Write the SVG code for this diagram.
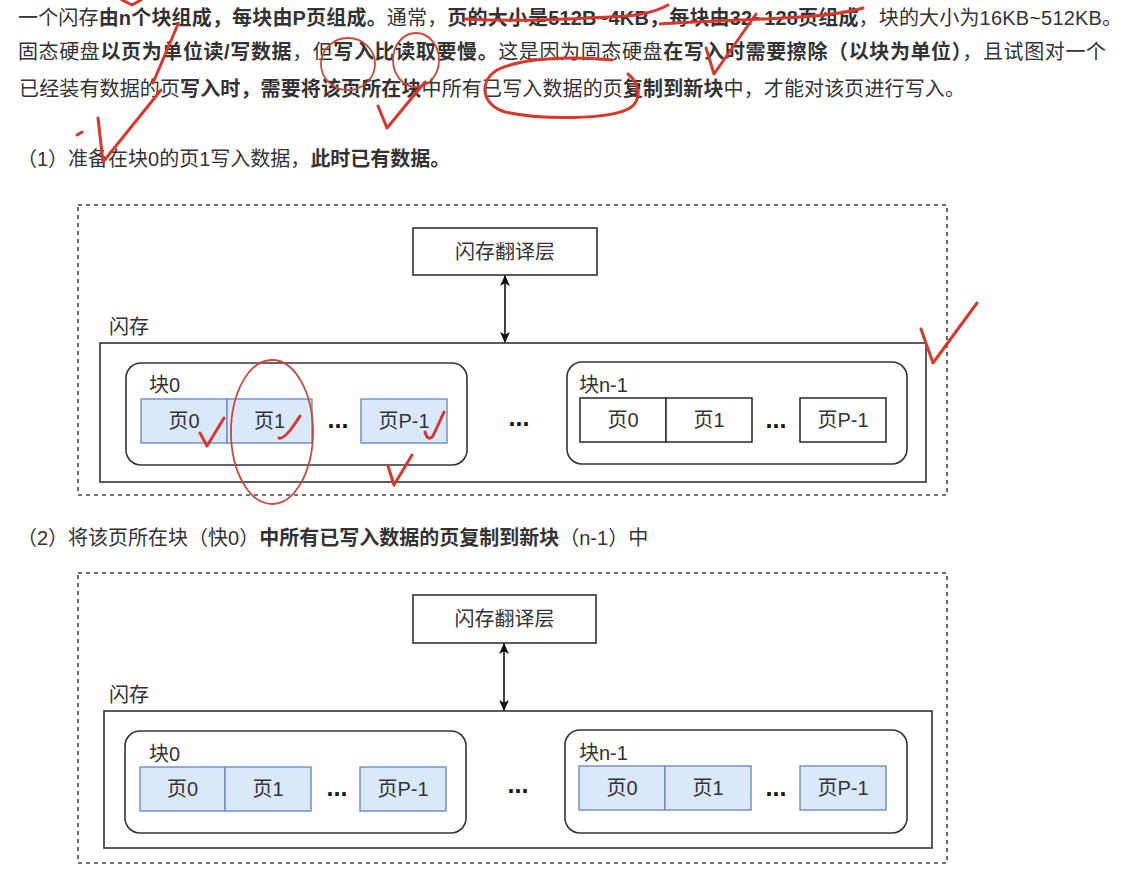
<svg xmlns="http://www.w3.org/2000/svg" width="1132" height="876" viewBox="0 0 1132 876">
<defs>
<style>
text{font-family:"Liberation Sans","Noto Sans CJK SC",sans-serif;fill:#333;}
.p{font-size:20px;}
.b{font-weight:bold;}
.lbl{font-size:20px;}
.c{text-anchor:middle;}
.dots{font-size:25px;font-weight:bold;text-anchor:middle;fill:#111;}
.outer{fill:none;stroke:#444;stroke-width:1.6;stroke-dasharray:4 4;}
.box{fill:#fff;stroke:#333;stroke-width:1.6;}
.blk{fill:#fff;stroke:#333;stroke-width:1.6;}
.pg{fill:#dae8fc;stroke:#6c8ebf;stroke-width:1.4;}
.pgw{fill:#fff;stroke:#333;stroke-width:1.6;}
.conn{stroke:#111;stroke-width:1.6;fill:none;marker-start:url(#ah);marker-end:url(#ah);}
.red{fill:none;stroke:#d8372b;stroke-width:3;stroke-linecap:round;stroke-linejoin:round;}
.redt{fill:none;stroke:#c9473b;stroke-width:1.8;}
</style>
<marker id="ah" viewBox="0 0 10 10" refX="9" refY="5" markerWidth="11" markerHeight="11" orient="auto-start-reverse" markerUnits="userSpaceOnUse">
<path d="M0,0.5 L10,5 L0,9.5 L2.5,5 Z" fill="#111"/>
</marker>
</defs>
<rect width="1132" height="876" fill="#fff"/>

<g id="paragraph">
<text class="p" x="18" y="25" textLength="1104" lengthAdjust="spacing">一个闪存<tspan class="b">由n个块组成，每块由P页组成。</tspan>通常，<tspan class="b">页的大小是512B~4KB，每块由32~128页组成</tspan>，块的大小为16KB~512KB。</text>
<text class="p" x="18" y="59" textLength="1088" lengthAdjust="spacing">固态硬盘<tspan class="b">以页为单位读/写数据</tspan>，但<tspan class="b">写入比读取要慢。</tspan>这是因为固态硬盘<tspan class="b">在写入时需要擦除（以块为单位）</tspan>，且试图对一个</text>
<text class="p" x="19" y="96" textLength="946" lengthAdjust="spacing">已经装有数据的页<tspan class="b">写入时，需要将该页所在块</tspan>中所有已写入数据的页<tspan class="b">复制到新块</tspan>中，才能对该页进行写入。</text>
<text class="p" x="17" y="166">（1）准备在块0的页1写入数据，<tspan class="b">此时已有数据。</tspan></text>
<text class="p" x="17" y="545">（2）将该页所在块（快0）<tspan class="b">中所有已写入数据的页复制到新块</tspan>（n-1）中</text>
</g>

<!-- Diagram 1 -->
<g id="d1-frame"><rect class="outer" x="78" y="205" width="869" height="290"/></g>
<g id="d1-ftl"><rect class="box" x="413" y="228" width="184" height="47"/><text class="lbl c" x="505" y="259">闪存翻译层</text></g>
<g id="d1-flash"><text class="lbl" x="109" y="334">闪存</text><rect class="box" x="100" y="343" width="826" height="139"/></g>
<g id="d1-block0">
<rect class="blk" x="126" y="363" width="341" height="102" rx="15"/>
<text class="lbl" x="149" y="392">块0</text>
<rect class="pg" x="141" y="399" width="86" height="44"/><text class="lbl c" x="184" y="428">页0</text>
<rect class="pg" x="227" y="399" width="85" height="44"/><text class="lbl c" x="269.5" y="428">页1</text>
<text class="dots" x="338" y="428">...</text>
<rect class="pg" x="361" y="399" width="86" height="44"/><text class="lbl c" x="404" y="428">页P-1</text>
</g>
<g id="d1-mid"><text class="dots" x="519" y="426">...</text></g>
<g id="d1-blockn1">
<rect class="blk" x="567" y="362" width="340" height="102" rx="15"/>
<text class="lbl" x="579" y="392">块n-1</text>
<rect class="pgw" x="580" y="398" width="86" height="44"/><text class="lbl c" x="623" y="427">页0</text>
<rect class="pgw" x="666" y="398" width="86" height="44"/><text class="lbl c" x="709" y="427">页1</text>
<text class="dots" x="776" y="428">...</text>
<rect class="pgw" x="800" y="398" width="86" height="44"/><text class="lbl c" x="843" y="427">页P-1</text>
</g>

<!-- Diagram 2 -->
<g id="d2-frame"><rect class="outer" x="78" y="573" width="869" height="290"/></g>
<g id="d2-ftl"><rect class="box" x="413" y="595" width="183" height="48"/><text class="lbl c" x="504.5" y="626">闪存翻译层</text></g>
<g id="d2-flash"><text class="lbl" x="109" y="702">闪存</text><rect class="box" x="104" y="711" width="828" height="137"/></g>
<g id="d2-block0">
<rect class="blk" x="125" y="731" width="341" height="102" rx="15"/>
<text class="lbl" x="149" y="761">块0</text>
<rect class="pg" x="140" y="767" width="85" height="44"/><text class="lbl c" x="182.5" y="796">页0</text>
<rect class="pg" x="225" y="767" width="86" height="44"/><text class="lbl c" x="268" y="796">页1</text>
<text class="dots" x="337" y="796">...</text>
<rect class="pg" x="360" y="767" width="86" height="44"/><text class="lbl c" x="403" y="796">页P-1</text>
</g>
<g id="d2-mid"><text class="dots" x="518" y="793">...</text></g>
<g id="d2-blockn1">
<rect class="blk" x="565" y="730" width="342" height="103" rx="15"/>
<text class="lbl" x="579" y="760">块n-1</text>
<rect class="pg" x="579" y="766" width="86" height="44"/><text class="lbl c" x="622" y="795">页0</text>
<rect class="pg" x="665" y="766" width="86" height="44"/><text class="lbl c" x="708" y="795">页1</text>
<text class="dots" x="776" y="796">...</text>
<rect class="pg" x="800" y="766" width="86" height="44"/><text class="lbl c" x="843" y="795">页P-1</text>
</g>

<g id="connectors">
<line class="conn" x1="505" y1="276" x2="505" y2="342"/>
<line class="conn" x1="504" y1="644" x2="504" y2="710"/>
</g>

<g id="annotations">
<path class="red" d="M122 0 L132 5 L141 0"/>
<path class="red" d="M178 24 L153 83"/>
<path class="red" d="M161 90 L103 162 L98 118"/>
<path class="red" d="M77 135 L82 132" stroke-width="2"/>
<ellipse class="redt" cx="348" cy="64" rx="27" ry="26"/>
<ellipse class="redt" cx="416" cy="60" rx="23" ry="27"/>
<path class="red" d="M378 106 L387 128 L425 82"/>
<path class="red" d="M465 19 C520 22 560 19 610 17 C640 16 655 12 668 5"/>
<path class="red" d="M660 24 C700 21 760 20 800 17 C830 15 850 12 863 8"/>
<path class="red" d="M706 48 L714 74 L756 14"/>
<path class="red" stroke-width="2.6" d="M612 60 C570 56 520 58 497 70 C478 82 482 105 505 112 C540 120 610 120 630 108 C642 100 640 84 628 74"/>
<path class="red" d="M921 329 L933 363 L977 303"/>
<ellipse class="redt" cx="272" cy="432" rx="41" ry="72"/>
<path class="red" d="M200 433 L207 446 L224 418"/>
<path class="red" d="M279 438 Q285 440 300 416"/>
<path class="red" d="M425 432 Q428 442 433 436 L444 412"/>
<path class="red" d="M388 466 L394 485 L412 455"/>
</g>
</svg>
